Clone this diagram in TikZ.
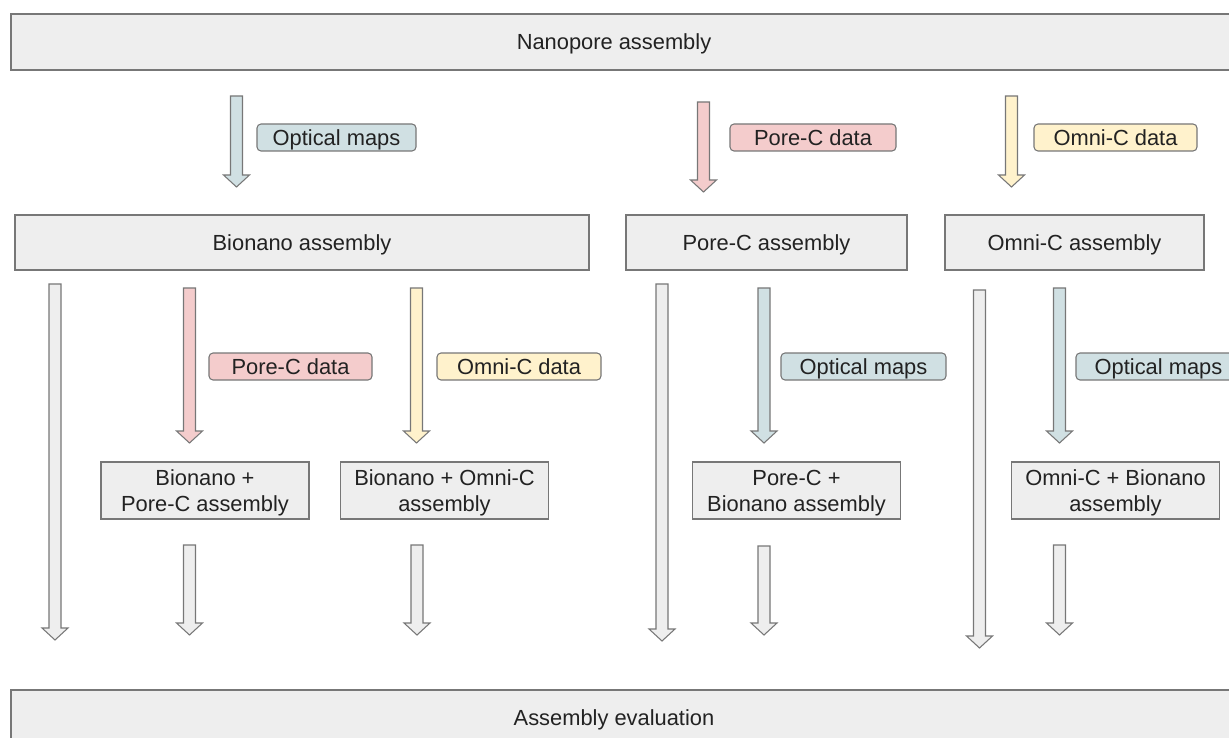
\documentclass[tikz,border=0pt]{standalone}
\usepackage{fontspec}
\setmainfont{Liberation Sans}
\usetikzlibrary{positioning}
\definecolor{boxgray}{HTML}{EEEEEE}
\definecolor{edgegray}{HTML}{777777}
\definecolor{mapblue}{HTML}{D0E0E3}
\definecolor{porered}{HTML}{F4CCCC}
\definecolor{omniyel}{HTML}{FFF2CC}
\definecolor{inkgray}{HTML}{222222}
% block arrow pointing down: x, top, tip, fill
\newcommand{\blockarrow}[4]{%
  \draw[arr,fill=#4] ({#1-6},#2) -- ({#1+6},#2) -- ({#1+6},{#3-12}) -- ({#1+13},{#3-12})
    -- (#1,#3) -- ({#1-13},{#3-12}) -- ({#1-6},{#3-12}) -- cycle;}

\begin{document}
\begin{tikzpicture}[x=0.75pt,y=-0.75pt,
        every node/.style={font=\fontsize{16.4pt}{19.5pt}\selectfont,text=inkgray,text depth=0pt},
        box/.style={draw=edgegray,fill=boxgray,line width=1pt,inner sep=0pt,align=center},
        tag/.style={draw=edgegray,rounded corners=3pt,line width=0.8pt,inner sep=0pt,minimum height=20.25pt},
        arr/.style={draw=edgegray,line width=0.8pt,line join=miter}]
      \useasboundingbox (0,0) rectangle (1229,738);
      \clip (0,0) rectangle (1229,738);
      % top and bottom bars
      \node [box,minimum width=921.75pt,minimum height=42pt] (nano) at (625.5,42) {};
      \node (nanotext) at (614,42) {Nanopore assembly};
      \node [box,minimum width=921.75pt,minimum height=45pt] (eval) at (625.5,720) {};
      \node (evaltext) at (614,718) {Assembly evaluation};
      % first scaffolding
      \node [box,minimum width=430.5pt,minimum height=41.25pt] (bio)  at (302,242.5)    {Bionano assembly};
      \node [box,minimum width=210.75pt,minimum height=41.25pt] (pore) at (766.5,242.5)  {Pore-C assembly};
      \node [box,minimum width=194.25pt,minimum height=41.25pt] (omni) at (1074.5,242.5) {Omni-C assembly};
      % second scaffolding
      \node [box,minimum width=156pt,minimum height=42.75pt] (biopore) at (205,490.5)    {Bionano +\\Pore-C assembly};
      \node [box,minimum width=156pt,minimum height=42.75pt] (bioomni) at (444.5,490.5)  {Bionano + Omni-C\\assembly};
      \node [box,minimum width=156pt,minimum height=42.75pt] (porebio) at (796.5,490.5)  {Pore-C +\\Bionano assembly};
      \node [box,minimum width=156pt,minimum height=42.75pt] (omnibio) at (1115.5,490.5) {Omni-C + Bionano\\assembly};
      % data tags
      \node [tag,fill=mapblue,minimum width=119.25pt] (maps1) at (336.5,137.5) {Optical maps};
      \node [tag,fill=porered,minimum width=124.5pt]  (pc1)   at (813,137.5)   {Pore-C data};
      \node [tag,fill=omniyel,minimum width=122.25pt] (oc1)   at (1115.5,137.5){Omni-C data};
      \node [tag,fill=porered,minimum width=122.25pt] (pc2)   at (290.5,366.5) {Pore-C data};
      \node [tag,fill=omniyel,minimum width=123pt]    (oc2)   at (519,366.5)   {Omni-C data};
      \node [tag,fill=mapblue,minimum width=123.75pt] (maps2) at (863.5,366.5) {Optical maps};
      \node [tag,fill=mapblue,minimum width=123.75pt] (maps3) at (1158.5,366.5){Optical maps};
      % arrows
      \blockarrow{236.5}{96}{187}{mapblue}
      \blockarrow{703.5}{102}{192}{porered}
      \blockarrow{1011.5}{96}{187}{omniyel}
      \blockarrow{55}{284}{640}{boxgray}
      \blockarrow{189.5}{288}{443}{porered}
      \blockarrow{416.5}{288}{443}{omniyel}
      \blockarrow{189.5}{545}{635}{boxgray}
      \blockarrow{417}{545}{635}{boxgray}
      \blockarrow{662}{284}{641}{boxgray}
      \blockarrow{764}{288}{443}{mapblue}
      \blockarrow{764}{546}{635}{boxgray}
      \blockarrow{979.5}{290}{648}{boxgray}
      \blockarrow{1059.5}{288}{443}{mapblue}
      \blockarrow{1059.5}{545}{635}{boxgray}
    \end{tikzpicture}
\end{document}
